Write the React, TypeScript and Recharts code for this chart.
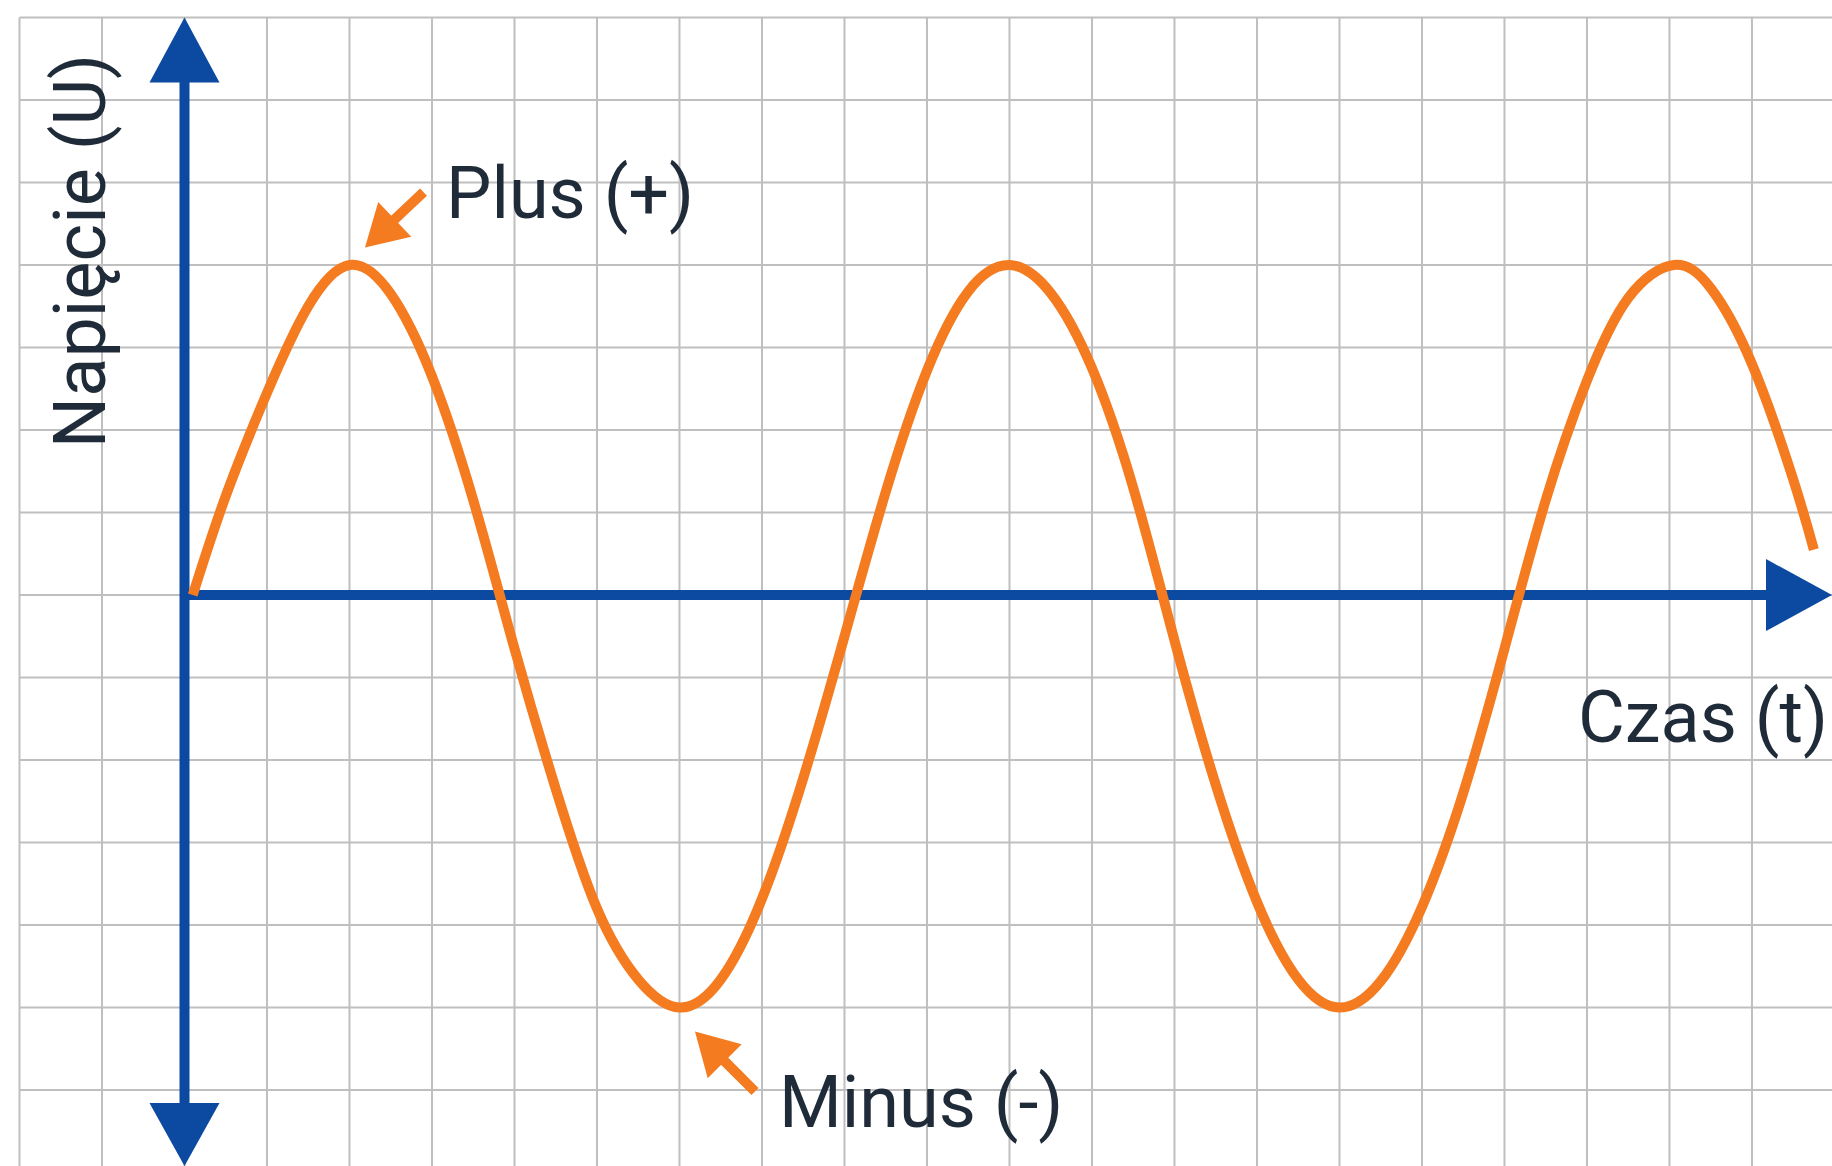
import { LineChart, Line, XAxis, YAxis, CartesianGrid, ReferenceLine, ReferenceDot } from "recharts";

// time (grid units from the vertical axis) and voltage (grid units from the horizontal axis)
const timeValues = [
  0.1, 0.5, 1, 1.5, 2, 2.5, 3, 3.5, 4, 4.5, 5, 5.5, 6, 6.5, 7, 7.5, 8, 8.5, 9, 9.5, 10,
  10.5, 11, 11.5, 12, 12.5, 13, 13.5, 14, 14.5, 15, 15.5, 16, 16.5, 17, 17.5, 18.05,
  18.5, 19, 19.5, 19.75,
];
const voltageValues = [
  0, 1.2, 2.45, 3.5, 4, 3.65, 2.65, 1.15, -0.65, -2.35, -3.8, -4.66, -5, -4.66, -3.68, -2.22,
  -0.5, 1.25, 2.72, 3.68, 4, 3.66, 2.75, 1.3, -0.55, -2.3, -3.72, -4.66, -5, -4.68, -3.78,
  -2.4, -0.65, 1.15, 2.6, 3.6, 4, 3.72, 2.8, 1.4, 0.55,
];

// grid paper lines
const gridX = [-2, -1, 0, 1, 2, 3, 4, 5, 6, 7, 8, 9, 10, 11, 12, 13, 14, 15, 16, 17, 18, 19];
const gridY = [-6, -5, -4, -3, -2, -1, 0, 1, 2, 3, 4, 5, 6, 7];

const xDomain = [-2, 19.97];
const yDomain = [-6.92, 7];

const labels = {
  y: "Napięcie (U)",
  x: "Czas (t)",
  plus: "Plus (+)",
  minus: "Minus (-)",
};

const data = timeValues.map((t, i) => ({ t, u: voltageValues[i] }));

const BLUE = "#0b4aa0";
const ORANGE = "#f47b20";
const INK = "#1f2b38";
const FONT = "Roboto, 'Noto Sans', sans-serif";

function arrow(x1: number, y1: number, x2: number, y2: number, head: number, headW: number, shaft: number, color: string) {
  const len = Math.hypot(x2 - x1, y2 - y1);
  const ux = (x2 - x1) / len;
  const uy = (y2 - y1) / len;
  const bx = x2 - ux * head;
  const by = y2 - uy * head;
  const px = (-uy * headW) / 2;
  const py = (ux * headW) / 2;
  return (
    <g>
      <line x1={x1} y1={y1} x2={bx + ux * 2} y2={by + uy * 2} stroke={color} strokeWidth={shaft} />
      <polygon points={`${x2},${y2} ${bx + px},${by + py} ${bx - px},${by - py}`} fill={color} />
    </g>
  );
}

const textStyle = { fontFamily: FONT, fontSize: 72, fill: INK };

export default function App() {
  return (
    <div style={{ position: "absolute", left: 0, top: 0, width: 1832, height: 1166, background: "#fff" }}>
      <LineChart width={1832} height={1166} data={data} margin={{ top: 17.5, right: 0, bottom: 0, left: 19.5 }}>
        <CartesianGrid
          stroke="#bfbfbf"
          strokeWidth={2}
          verticalValues={gridX}
          horizontalValues={gridY}
        />
        <XAxis type="number" dataKey="t" domain={xDomain} ticks={gridX} allowDataOverflow hide />
        <YAxis type="number" domain={yDomain} ticks={gridY} allowDataOverflow hide />

        <ReferenceLine segment={[{ x: 0, y: 6.5 }, { x: 0, y: -6.4 }]} stroke={BLUE} strokeWidth={10} ifOverflow="visible" />
        <ReferenceLine segment={[{ x: 0, y: 0 }, { x: 19.5, y: 0 }]} stroke={BLUE} strokeWidth={10} ifOverflow="visible" />

        <ReferenceDot
          x={0}
          y={yDomain[1]}
          ifOverflow="visible"
          shape={(p: any) => (
            <g>
              <polygon points={`${p.cx},${p.cy} ${p.cx - 35},${p.cy + 65} ${p.cx + 35},${p.cy + 65}`} fill={BLUE} />
              <text
                x={p.cx - 79.5}
                y={p.cy + 233.5}
                transform={`rotate(-90, ${p.cx - 79.5}, ${p.cy + 233.5})`}
                textAnchor="middle"
                style={textStyle}
              >
                {labels.y}
              </text>
            </g>
          )}
        />
        <ReferenceDot
          x={0}
          y={yDomain[0]}
          ifOverflow="visible"
          shape={(p: any) => (
            <polygon points={`${p.cx},${p.cy} ${p.cx - 35},${p.cy - 63} ${p.cx + 35},${p.cy - 63}`} fill={BLUE} />
          )}
        />
        <ReferenceDot
          x={xDomain[1]}
          y={0}
          ifOverflow="visible"
          shape={(p: any) => (
            <g>
              <polygon points={`${p.cx},${p.cy} ${p.cx - 66},${p.cy - 36} ${p.cx - 66},${p.cy + 36}`} fill={BLUE} />
              <text x={p.cx - 4} y={p.cy + 147} textAnchor="end" style={textStyle}>
                {labels.x}
              </text>
            </g>
          )}
        />

        <Line
          type="natural"
          dataKey="u"
          stroke={ORANGE}
          strokeWidth={10}
          dot={false}
          activeDot={false}
          isAnimationActive={false}
        />

        <ReferenceDot
          x={2}
          y={4}
          ifOverflow="visible"
          shape={(p: any) => (
            <g>
              {arrow(p.cx + 74, p.cy - 73, p.cx + 15.5, p.cy - 17.5, 41, 48, 10, ORANGE)}
              <text x={p.cx + 96.5} y={p.cy - 47} style={textStyle}>
                {labels.plus}
              </text>
            </g>
          )}
        />
        <ReferenceDot
          x={6}
          y={-5}
          ifOverflow="visible"
          shape={(p: any) => (
            <g>
              {arrow(p.cx + 75.5, p.cy + 84, p.cx + 15.5, p.cy + 24, 42, 48, 10, ORANGE)}
              <text x={p.cx + 99.5} y={p.cy + 119.5} style={textStyle}>
                {labels.minus}
              </text>
            </g>
          )}
        />
      </LineChart>
    </div>
  );
}
